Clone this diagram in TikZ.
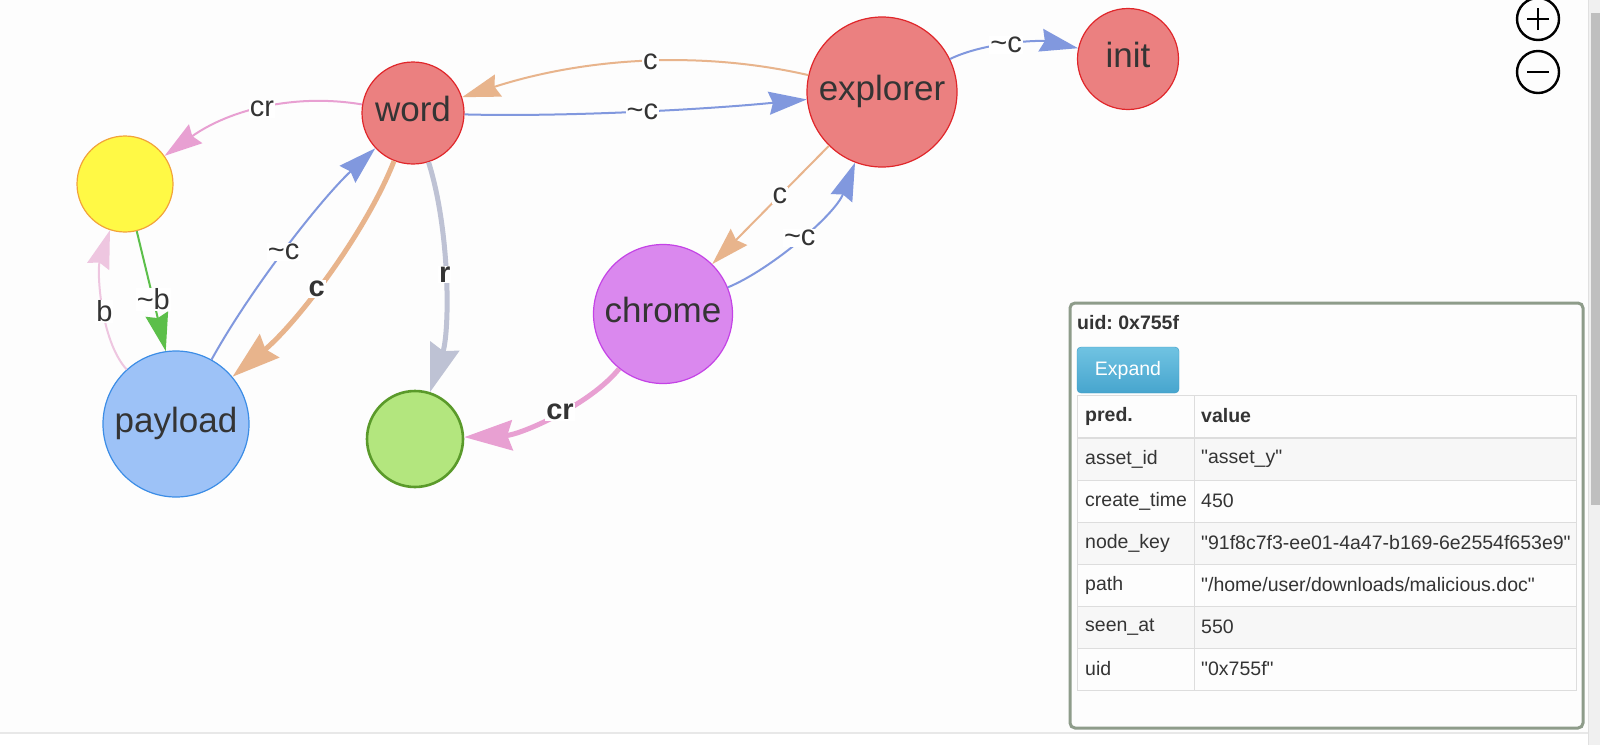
\documentclass[tikz,border=0pt]{standalone}
\usepackage{fontspec}
\setmainfont{Liberation Sans}[Ligatures=TeXOff]
\usetikzlibrary{arrows.meta}

\definecolor{txtgrey}{HTML}{343434}
\definecolor{redfill}{HTML}{EB8080}
\definecolor{redline}{HTML}{E0262A}
\definecolor{yelfill}{HTML}{FFF945}
\definecolor{yelline}{HTML}{F2A33A}
\definecolor{bluefill}{HTML}{9DC2F7}
\definecolor{blueline}{HTML}{3C8DE6}
\definecolor{grnfill}{HTML}{B3E67E}
\definecolor{grnline}{HTML}{5A9A2A}
\definecolor{violfill}{HTML}{DA88EE}
\definecolor{violline}{HTML}{C443E6}
\definecolor{pinkedge}{HTML}{E8A0D2}
\definecolor{lightpink}{HTML}{EEC6E0}
\definecolor{orangeedge}{HTML}{E8B48C}
\definecolor{blueedge}{HTML}{8198DE}
\definecolor{greyedge}{HTML}{BEC2D4}
\definecolor{greenedge}{HTML}{5CBF4A}
\definecolor{panelline}{HTML}{8E9C8A}
\definecolor{cellline}{HTML}{DDDDDD}
\definecolor{stripe}{HTML}{F7F7F7}
\definecolor{bg}{HTML}{FDFDFD}
\definecolor{btntop}{HTML}{70C3E2}
\definecolor{btnbot}{HTML}{47A5CE}
\definecolor{btnline}{HTML}{3C9AC4}

\frenchspacing
\begin{document}
\begin{tikzpicture}[x=1pt,y=1pt,
		vnode/.style={circle, line width=1.2pt, inner sep=0pt, text height=26pt, text depth=10pt, text=txtgrey, font=\fontsize{35}{40}\selectfont},
		lbl/.style={fill=white, inner sep=1pt, text=txtgrey, font=\fontsize{29}{32}\selectfont},
		blbl/.style={lbl, font=\fontsize{29}{32}\selectfont\bfseries},
		slimedge/.style={line width=2pt, -{Stealth[length=38pt,width=23pt,inset=4pt]}},
		fatedge/.style={line width=5pt, -{Stealth[length=48pt,width=30pt,inset=5pt]}},
		cell/.style={anchor=west, inner sep=0pt, text=txtgrey, font=\fontsize{19.5}{22}\selectfont}]
		% Background, bottom rule and scroll bar
		\fill[bg] (0,0) rectangle (1600,-733);
		\fill[white] (0,-733) rectangle (1600,-745);
		\useasboundingbox (0,0) rectangle (1600,-745);
		\draw[cellline!80!black!30, line width=2pt] (0,-733) -- (1588,-733);
		\fill[black!6] (1589,0) rectangle (1600,-745);
		\draw[black!12] (1588.5,0) -- (1588.5,-745);
		\fill[black!25] (1591,-13) rectangle (1600,-505);

		% Draw the nodes
		\node[vnode, draw=redline, fill=redfill, minimum size=102pt] (word) at (413,-113) {word};
		\node[vnode, draw=redline, fill=redfill, minimum size=150pt] (explorer) at (882,-92) {explorer};
		\node[vnode, draw=redline, fill=redfill, minimum size=101pt] (init) at (1128,-59) {init};
		\node[vnode, draw=violline, fill=violfill, minimum size=139pt] (chrome) at (663,-314) {chrome};
		\node[vnode, draw=yelline, fill=yelfill, minimum size=96pt] (ynode) at (125,-184) {};
		\node[vnode, draw=blueline, fill=bluefill, minimum size=146pt] (payload) at (176,-424) {payload};
		\node[vnode, draw=grnline, fill=grnfill, line width=2.6pt, minimum size=96pt] (gnode) at (415,-439) {};

		% Draw the edges
		\draw[slimedge, draw=pinkedge] (word) .. controls (294,-93) and (229,-110) .. (ynode) node[lbl, pos=0.5] {cr};
		\draw[slimedge, draw=orangeedge] (explorer) .. controls (699,-50) and (584,-58) .. (word) node[lbl, pos=0.47] {c};
		\draw[slimedge, draw=blueedge] (word) .. controls (560,-117) and (700,-110) .. (explorer) node[lbl, pos=0.53] {\textasciitilde c};
		\draw[slimedge, draw=blueedge] (explorer) .. controls (985,-42) and (1040,-40) .. (init) node[lbl, pos=0.45] {\textasciitilde c};
		\draw[slimedge, draw=orangeedge] (explorer) -- (chrome) node[lbl, pos=0.42] {c};
		\draw[slimedge, draw=blueedge] (chrome) .. controls (770,-270) and (835,-215) .. (explorer) node[lbl, pos=0.5] {\textasciitilde c};
		\draw[fatedge, draw=pinkedge] (chrome) .. controls (590,-405) and (520,-435) .. (gnode) node[blbl, pos=0.45] {cr};
		\draw[fatedge, draw=greyedge] (word) .. controls (450,-230) and (450,-330) .. (gnode) node[blbl, pos=0.48] {r};
		\draw[fatedge, draw=orangeedge] (word) .. controls (366,-232) and (298,-322) .. (payload) node[blbl, pos=0.56] {c};
		\draw[slimedge, draw=blueedge] (payload) .. controls (250,-290) and (320,-200) .. (word) node[lbl, pos=0.48] {\textasciitilde c};
		\draw[slimedge, draw=greenedge] (ynode.-76) -- (payload.98) node[lbl, pos=0.57] {\textasciitilde b};
		\draw[slimedge, draw=lightpink] (payload) .. controls (100,-340) and (97,-270) .. (ynode) node[lbl, pos=0.45] {b};

		% Zoom buttons
		\node[circle, draw, line width=2.4pt, minimum size=42pt] (zoomin) at (1538,-19) {};
		\node[circle, draw, line width=2.4pt, minimum size=42pt] (zoomout) at (1538,-72) {};
		\draw[line width=2.4pt] ([xshift=-11pt]zoomin.center) -- ([xshift=11pt]zoomin.center)
			([yshift=-11pt]zoomin.center) -- ([yshift=11pt]zoomin.center);
		\draw[line width=2.4pt] ([xshift=-11pt]zoomout.center) -- ([xshift=11pt]zoomout.center);

		% Info panel
		\draw[panelline, line width=3pt, fill=bg, rounded corners=5pt] (1070,-303) rectangle (1583,-728);
		\node[cell, font=\fontsize{19.5}{22}\selectfont\bfseries] (uid) at (1077,-323) {uid: 0x755f};
		\draw[draw=btnline, top color=btntop, bottom color=btnbot, rounded corners=4pt]
			(1077,-347) rectangle (1179,-393);
		\node[text=white, font=\fontsize{19.5}{22}\selectfont] (expand) at (1128,-370) {Expand};
		\foreach \i in {1,3,5}
			\fill[stripe] (1077,-438-42*\i+42) rectangle (1576,-438-42*\i);
		\draw[cellline] (1077,-395) rectangle (1576,-690);
		\draw[cellline] (1194,-395) -- (1194,-690);
		\foreach \i in {1,...,5}
			\draw[cellline] (1077,-438-42*\i) -- (1576,-438-42*\i);
		\draw[cellline, line width=2pt] (1077,-438) -- (1576,-438);
		\node[cell, font=\fontsize{19.5}{22}\selectfont\bfseries] (predhead) at (1085,-416) {pred.};
		\node[cell, font=\fontsize{19.5}{22}\selectfont\bfseries] (valhead) at (1201,-416) {value};
		\foreach \k/\v [count=\i] in {{asset\_id}/{"asset\_y"}, {create\_time}/{450},
				{node\_key}/{"91f8c7f3-ee01-4a47-b169-6e2554f653e9"},
				{path}/{"/home/user/downloads/malicious.doc"}, {seen\_at}/{550}, {uid}/{"0x755f"}} {
			\node[cell] (key\i) at (1085,-459-42*\i+42) {\k};
			\node[cell] (val\i) at (1201,-459-42*\i+42) {\v};
		}
	\end{tikzpicture}
\end{document}
